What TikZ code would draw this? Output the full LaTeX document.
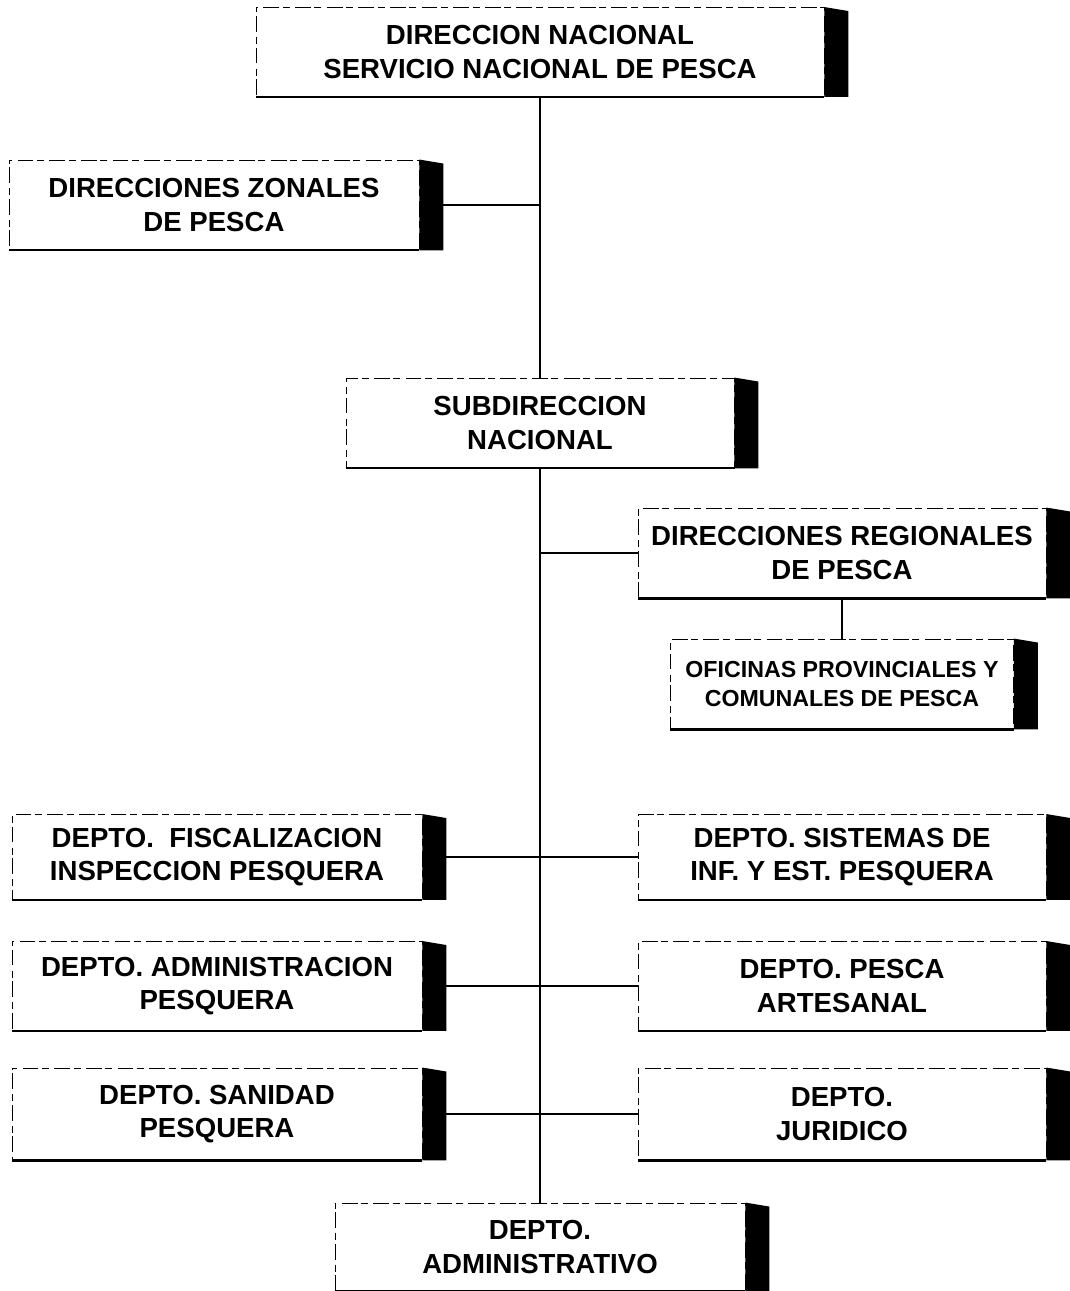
\documentclass[tikz,border=0pt]{standalone}
\usepackage{fontspec}
\setmainfont{Liberation Sans}
\usetikzlibrary{positioning}
\tikzset{font=\fontsize{15.7}{19}\selectfont\bfseries}
\tikzstyle{unit}=[draw,dash pattern=on 9pt off 3pt on 4pt off 2pt,line width=0.5pt,align=center,inner sep=0pt,minimum height=89*0.02cm]
\tikzstyle{wide}=[unit,minimum width=410*0.02cm]
\tikzstyle{link}=[line width=1.1pt]

\begin{document}
\begin{tikzpicture}
  [x=0.02cm,y=-0.02cm]
\useasboundingbox (0,0) rectangle (1070,1291);
\node[unit,minimum width=568*0.02cm] (dn) at (540,52) {DIRECCION NACIONAL\\SERVICIO NACIONAL DE PESCA};
\node[wide,minimum height=90*0.02cm] (dz) at (214,205) {DIRECCIONES ZONALES\\DE PESCA};
\node[unit,minimum width=388*0.02cm,minimum height=90*0.02cm] (sub) at (540,423) {SUBDIRECCION\\NACIONAL};
\node[wide,minimum width=408*0.02cm,minimum height=90*0.02cm] (reg) at (842,553) {DIRECCIONES REGIONALES\\DE PESCA};
\node[unit,minimum width=343*0.02cm,minimum height=90*0.02cm,font=\fontsize{13.2}{17}\selectfont\bfseries] (ofi) at (842,684) {OFICINAS PROVINCIALES Y\\COMUNALES DE PESCA};
\node[wide,minimum height=85*0.02cm] (fis) at (217,857) {DEPTO.\ \ FISCALIZACION\\INSPECCION PESQUERA};
\node[wide,minimum width=408*0.02cm,minimum height=85*0.02cm] (sis) at (842,857) {DEPTO. SISTEMAS DE\\INF. Y EST. PESQUERA};
\node[wide] (adm) at (217,986) {DEPTO. ADMINISTRACION\\PESQUERA};
\node[wide,minimum width=408*0.02cm] (art) at (842,986) {DEPTO. PESCA\\ARTESANAL};
\node[wide,minimum height=92*0.02cm] (san) at (217,1114) {DEPTO. SANIDAD\\PESQUERA};
\node[wide,minimum width=408*0.02cm,minimum height=92*0.02cm] (jur) at (842,1114) {DEPTO.\\JURIDICO};
\node[wide,minimum height=88*0.02cm] (admv) at (540,1247) {DEPTO.\\ADMINISTRATIVO};
% shadows
\foreach \n in {dn,dz,sub,reg,ofi,fis,sis,adm,art,san,jur,admv}
  {\fill (\n.north east) -- ([xshift=24*0.02cm,yshift=-4*0.02cm]\n.north east)
     -- ([xshift=24*0.02cm]\n.south east) -- (\n.south east) -- cycle;
   \draw[line width=1.2pt] (\n.south west) -- (\n.south east);}
% connectors
\draw[link] (dn.south) -- (sub.north);
\draw[link] (sub.south) -- (admv.north);
\draw[link] (dz.east) -- (dz.east -| sub.south);
\draw[link] (reg.west) -- (reg.west -| sub.south);
\draw[link] (reg.south) -- (ofi.north);
\draw[link] (fis.east) -- (sis.west);
\draw[link] (adm.east) -- (art.west);
\draw[link] (san.east) -- (jur.west);
\end{tikzpicture}
\end{document}
